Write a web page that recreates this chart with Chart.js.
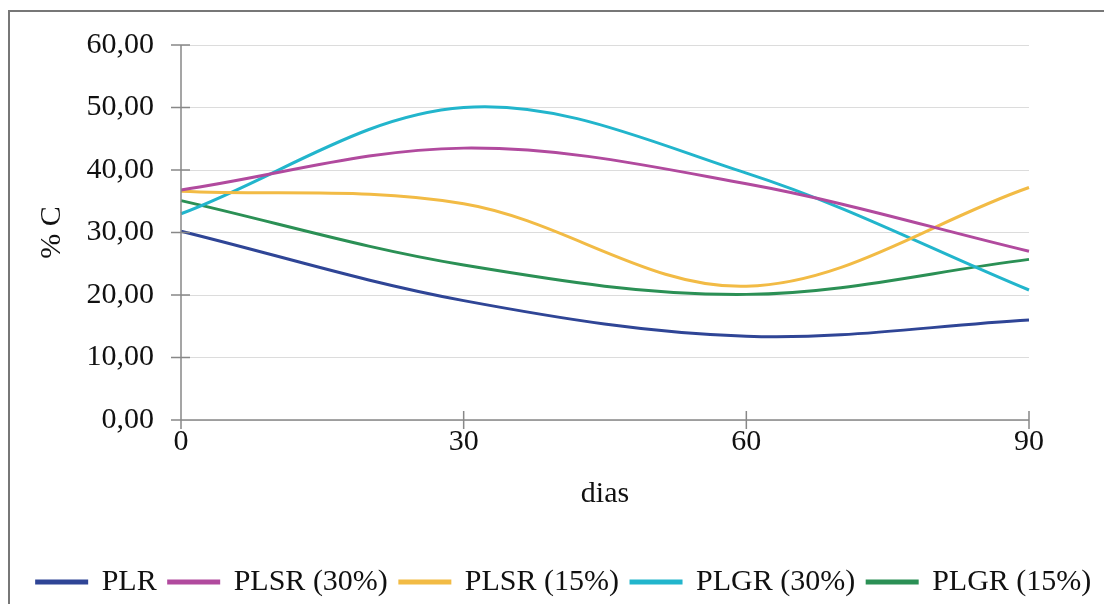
<!DOCTYPE html>
<html>
<head>
<meta charset="utf-8">
<script src="https://cdn.jsdelivr.net/npm/chart.js@4"></script>
<style>
  html, body { margin: 0; padding: 0; background: #fff; }
  #wrap { width: 1104px; height: 604px; position: relative; }
</style>
</head>
<body>
<div id="wrap"><canvas id="myChart" width="1104" height="604"></canvas></div>
<script>
const dias = ["0", "30", "60", "90"];
const seriesNames = ["PLR", "PLSR (30%)", "PLSR (15%)", "PLGR (30%)", "PLGR (15%)"];
const plr = [30.2, 19.1, 13.4, 16.0];
const plsr30 = [36.8, 43.5, 37.8, 27.0];
const plsr15 = [36.6, 34.6, 21.4, 37.2];
const plgr30 = [33.0, 50.0, 39.5, 20.8];
const plgr15 = [35.1, 24.8, 20.1, 25.7];
const yTicks = [0, 10, 20, 30, 40, 50, 60];
const lineColors = ["#2f4596", "#b14a9e", "#f2bb45", "#22b5cc", "#2b9055"];

const allValues = [plr, plsr30, plsr15, plgr30, plgr15];
const serif = "'Liberation Serif', 'Times New Roman', serif";
const fontSize = 30;

// frame around the whole chart (only top/left visible in the scan)
const framePlugin = {
    id: "frame",
    beforeDraw(chart) {
        const c = chart.ctx;
        c.save();
        c.fillStyle = "#fff";
        c.fillRect(0, 0, chart.width, chart.height);
        c.strokeStyle = "#777";
        c.lineWidth = 2;
        c.beginPath();
        c.moveTo(9, 610);
        c.lineTo(9, 11);
        c.lineTo(1110, 11);
        c.stroke();
        c.restore();
    }
};

// tick marks that cross the axis lines
const crossTicks = {
    id: "crossTicks",
    afterDatasetsDraw(chart) {
        const c = chart.ctx;
        const x = chart.scales.x, y = chart.scales.y;
        c.save();
        c.strokeStyle = "#888";
        c.lineWidth = 1.5;
        c.beginPath();
        x.ticks.forEach((t, i) => {
            const px = x.getPixelForTick(i);
            c.moveTo(px, y.bottom - 9);
            c.lineTo(px, y.bottom + 9);
        });
        y.ticks.forEach((t, i) => {
            const py = y.getPixelForTick(i);
            c.moveTo(x.left - 10, py);
            c.lineTo(x.left + 9, py);
        });
        c.moveTo(x.left, y.top);
        c.lineTo(x.left, y.bottom);
        c.moveTo(x.left, y.bottom);
        c.lineTo(x.right, y.bottom);
        c.stroke();
        c.restore();
    }
};

const conf = {
    type: "line",
    data: {
        labels: dias,
        datasets: seriesNames.map((name, i) => ({
            label: name,
            data: allValues[i],
            borderColor: lineColors[i],
            backgroundColor: lineColors[i],
            borderWidth: 3,
            pointRadius: 0,
            tension: 0.35,
            fill: false
        }))
    },
    options: {
        responsive: false,
        animation: false,
        layout: { padding: { left: 24, right: 0, top: 42, bottom: -3 } },
        plugins: {
            legend: {
                position: "bottom",
                labels: {
                    color: "#111",
                    font: { family: serif, size: fontSize },
                    boxWidth: 50,
                    boxHeight: 2,
                    padding: 12
                }
            },
            tooltip: { enabled: false }
        },
        scales: {
            x: {
                offset: false,
                grid: { display: false, drawTicks: false },
                border: { display: false },
                ticks: { color: "#111", font: { family: serif, size: fontSize }, padding: 4, maxRotation: 0 },
                title: { display: true, text: "dias", color: "#111", font: { family: serif, size: fontSize }, padding: { top: 12, bottom: 43 } }
            },
            y: {
                min: 0,
                max: 60,
                afterBuildTicks(scale) {
                    scale.ticks = yTicks.map(v => ({ value: v }));
                },
                afterFit(scale) { scale.width = 157; },
                grid: { color: "#dcdcdc", drawTicks: false, lineWidth: 1 },
                border: { display: false },
                ticks: {
                    color: "#111",
                    font: { family: serif, size: fontSize },
                    padding: 27,
                    callback: v => v.toFixed(2).replace(".", ",")
                },
                title: { display: true, text: "% C", color: "#111", font: { family: serif, size: fontSize }, padding: { top: 10, bottom: 0 } }
            },
            // empty right-hand axis, only keeps the plot area away from the right edge
            yRight: {
                position: "right",
                display: true,
                grid: { display: false, drawTicks: false },
                border: { display: false },
                ticks: { display: false },
                afterFit(scale) { scale.width = 75; }
            }
        }
    },
    plugins: [framePlugin, crossTicks]
};

const ctx = document.getElementById("myChart");
const myChart = new Chart(ctx, conf);
</script>
</body>
</html>
